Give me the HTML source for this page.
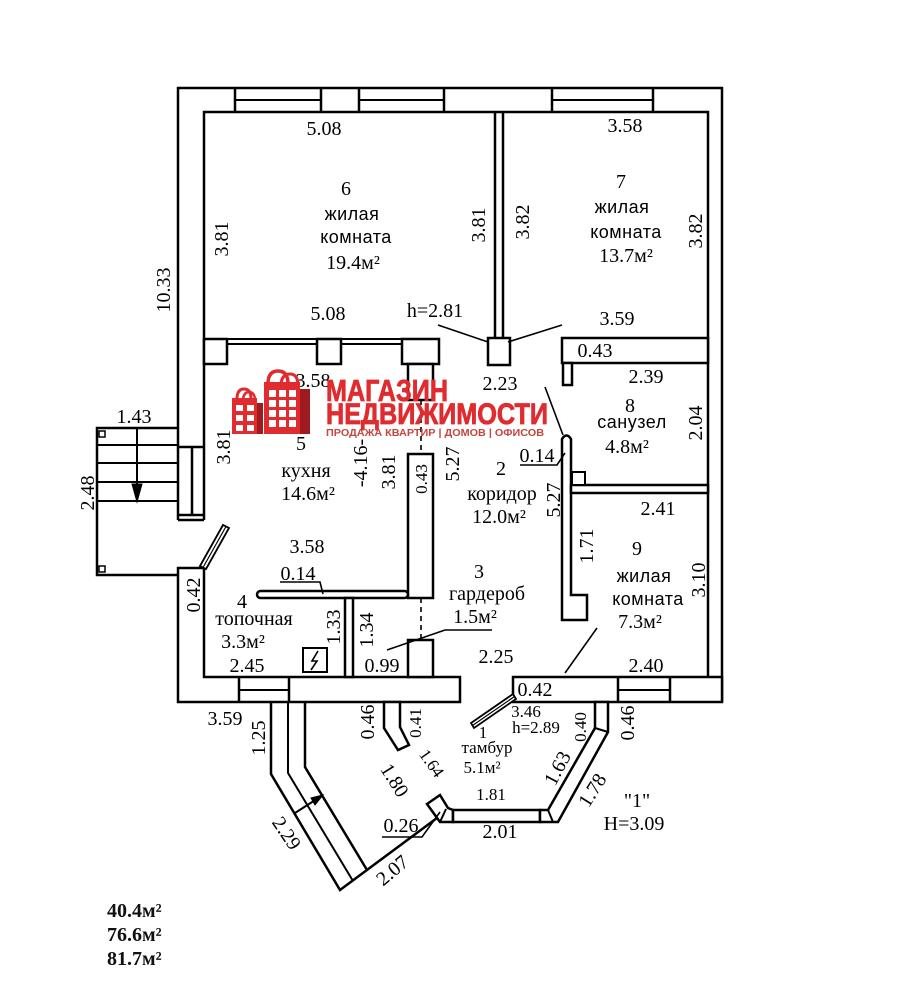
<!DOCTYPE html>
<html><head><meta charset="utf-8">
<style>
html,body{margin:0;padding:0;background:#fff;}
svg{display:block;}
.s{font-family:"Liberation Serif","Noto Serif CJK SC",serif;font-size:20px;fill:#000;}
.m{font-family:"Liberation Serif","Noto Serif CJK SC",serif;font-size:17px;fill:#000;}
.a{font-family:"Liberation Sans","Noto Sans CJK SC",sans-serif;font-size:18px;fill:#000;letter-spacing:0.5px;}
.b{font-family:"Liberation Serif","Noto Serif CJK SC",serif;font-size:20px;font-weight:bold;fill:#111;}
</style></head><body>
<svg width="905" height="988" viewBox="0 0 905 988" xmlns="http://www.w3.org/2000/svg">
<rect x="0" y="0" width="905" height="988" fill="#fff"/>
<g fill="#fff" stroke="#000" stroke-width="2.5" stroke-linejoin="miter">
  <path fill="none" d="M178,520 L178,88 L722,88 L722,702"/>
  <path fill="none" d="M204,520 L204,112 L708,112 L708,677"/>
  <path fill="none" d="M235,88 V112 M321,88 V112 M359,88 V112 M444,88 V112 M552,88 V112 M653,88 V112"/>
  <path fill="none" stroke-width="2" d="M235,100 H321 M359,100 H444 M552,100 H653"/>
  <path fill="none" d="M178,447 H204 M192,447 V515 M178,515 H204 M178,520 H204"/>
  <path d="M178,568 L204,568 L204,677 L460,677 L460,702 L178,702 Z"/>
  <path fill="none" d="M239,677 V702 M289,677 V702"/>
  <path fill="none" stroke-width="2" d="M239,690 H289"/>
  <rect x="513" y="677" width="209" height="25"/>
  <path fill="none" d="M618,677 V702 M670,677 V702"/>
  <path fill="none" stroke-width="2" d="M618,690 H670"/>
  <path fill="none" d="M495,112 V338 M503,112 V338"/>
  <rect x="204" y="339" width="23" height="25"/>
  <path fill="none" stroke-width="2" d="M227,339 H317 M227,344 H317 M341,339 H402 M341,344 H402"/>
  <rect x="317" y="339" width="24" height="25"/>
  <rect x="402" y="339" width="37" height="25"/>
  <rect x="408" y="364" width="25" height="36"/>
  <rect x="488" y="338" width="22" height="27"/>
  <rect x="562" y="338" width="146" height="25"/>
  <rect x="563" y="363" width="9" height="22"/>
  <rect x="408" y="454" width="25" height="144"/>
  <rect x="408" y="640" width="25" height="37"/>
  <rect x="257" y="591" width="151" height="7" rx="3.5"/>
  <rect x="345" y="598" width="8" height="79"/>
  <rect x="303" y="648" width="24" height="24" stroke-width="2"/>
  <path d="M562,620 L562,439 Q566.5,432 571,439 L571,595 L587,595 L587,620 Z"/>
  <rect x="571" y="485" width="137" height="8"/>
  <rect x="572" y="472" width="13" height="13" stroke-width="2"/>
  <polygon points="200,566 223,525 229,528 206,569" stroke-width="1.8"/>
  <line x1="203" y1="567.5" x2="226" y2="526.5" stroke-width="1.2"/>
  <polygon points="513,694 471,723 474,728 516,699" stroke-width="1.8"/>
  <line x1="514.5" y1="696.5" x2="472.5" y2="725.5" stroke-width="1.2"/>
  <path fill="none" d="M179,428 H97 V575 H179"/>
  <path fill="none" stroke-width="2" d="M97,445 H179 M97,463 H179 M97,482 H179 M97,501 H179"/>
  <rect x="99" y="431" width="6" height="6" stroke-width="1.5"/>
  <rect x="99" y="566" width="6" height="6" stroke-width="1.5"/>
  <line x1="137" y1="428" x2="137" y2="490" stroke-width="2"/>
  <polygon points="137,502 132,484 142,484" fill="#000" stroke-width="1"/>
  <path fill="none" d="M271,702 L271,774 L340,890 L437,818"/>
  <path fill="none" stroke-width="2" d="M288,702 L288,773 L353,881"/>
  <path fill="none" d="M305,702 L305,767 L367,870"/>
  <line x1="295" y1="813" x2="316" y2="799.5" stroke-width="2"/>
  <polygon points="323,795 315,805 311,798" fill="#000" stroke-width="1"/>
  <polygon points="384,702 384,728 398,750 409,745 400,727 400,702"/>
  <polygon points="427,804 440,795 448,808 453,810 453,822 440,822"/>
  <path fill="none" stroke-width="2" d="M440,822 L446,809"/>
  <rect x="453" y="810" width="87" height="12"/>
  <polygon points="595,702 595,728 548,810 540,810 540,822 558,822 608,732 608,702"/>
  <path fill="none" stroke-width="2" d="M548,810 L553,822 M595,728 L608,732"/>
</g>
<g fill="none" stroke="#000" stroke-width="1.6">
  <path stroke-dasharray="5,4" d="M421,400 V454 M421,598 V640"/>
  <path d="M438,325 L488,342 M508,342 L562,325"/>
  <path d="M545,387 L563,435"/>
  <path d="M520,465 H557 L565,453"/>
  <path d="M280,582 H320 L323,594"/>
  <path d="M387,650 L445,630 H492"/>
  <path d="M597,628 L565,673"/>
  <path d="M382,837 H422 L440,812"/>
  <path d="M318,651 L312,661 L317,661 L311,670" stroke-width="1.6"/>
</g>

<g class="s" text-anchor="middle">
  <text x="324" y="135">5.08</text>
  <text x="625" y="132">3.58</text>
  <text x="346" y="195">6</text>
  <text x="353" y="269">19.4м²</text>
  <text x="621" y="188">7</text>
  <text x="626" y="262">13.7м²</text>
  <text x="328" y="320">5.08</text>
  <text x="435" y="317">h=2.81</text>
  <text x="617" y="325">3.59</text>
  <text x="595" y="357">0.43</text>
  <text x="313" y="387">3.58</text>
  <text x="500" y="390">2.23</text>
  <text x="646" y="383">2.39</text>
  <text x="630" y="412">8</text>
  <text x="627" y="453">4.8м²</text>
  <text x="301" y="450">5</text>
  <text x="306" y="477">кухня</text>
  <text x="308" y="500">14.6м²</text>
  <text x="134" y="423">1.43</text>
  <text x="501" y="475">2</text>
  <text x="502" y="500">коридор</text>
  <text x="499" y="523">12.0м²</text>
  <text x="537" y="462">0.14</text>
  <text x="658" y="515">2.41</text>
  <text x="637" y="555">9</text>
  <text x="640" y="628">7.3м²</text>
  <text x="307" y="553">3.58</text>
  <text x="298" y="580">0.14</text>
  <text x="479" y="578">3</text>
  <text x="487" y="600">гардероб</text>
  <text x="475" y="623">1.5м²</text>
  <text x="242" y="608">4</text>
  <text x="254" y="625">топочная</text>
  <text x="243" y="648">3.3м²</text>
  <text x="247" y="672">2.45</text>
  <text x="382" y="672">0.99</text>
  <text x="496" y="663">2.25</text>
  <text x="646" y="672">2.40</text>
  <text x="535" y="696">0.42</text>
  <text x="225" y="725">3.59</text>
  <text x="401" y="832">0.26</text>
  <text x="500" y="838">2.01</text>
  <text x="637" y="807">"1"</text>
  <text x="634" y="830">H=3.09</text>
</g>
<g class="m" text-anchor="middle">
  <text x="526" y="717">3.46</text>
  <text x="536" y="733">h=2.89</text>
  <text x="483" y="738">1</text>
  <text x="487" y="753">тамбур</text>
  <text x="482" y="773">5.1м²</text>
  <text x="491" y="800">1.81</text>
</g>
<g class="a" text-anchor="middle">
  <text x="352" y="220">жилая</text>
  <text x="356" y="243">комната</text>
  <text x="622" y="213">жилая</text>
  <text x="626" y="238">комната</text>
  <text x="632" y="428">санузел</text>
  <text x="644" y="582">жилая</text>
  <text x="648" y="605">комната</text>
</g>
<g class="b">
  <text x="107" y="917">40.4м²</text>
  <text x="107" y="941">76.6м²</text>
  <text x="107" y="965">81.7м²</text>
</g>

<g class="s" text-anchor="middle">
  <text transform="translate(221,239) rotate(-90)" y="7">3.81</text>
  <text transform="translate(478,225) rotate(-90)" y="7">3.81</text>
  <text transform="translate(522,222) rotate(-90)" y="7">3.82</text>
  <text transform="translate(695,231) rotate(-90)" y="7">3.82</text>
  <text transform="translate(163,290) rotate(-90)" y="7">10.33</text>
  <text transform="translate(223,447) rotate(-90)" y="7">3.81</text>
  <text transform="translate(360,463) rotate(-90)" y="7">-4.16-</text>
  <text transform="translate(388,472) rotate(-90)" y="7">3.81</text>
  <text transform="translate(452,464) rotate(-90)" y="7">5.27</text>
  <text transform="translate(553,500) rotate(-90)" y="7">5.27</text>
  <text transform="translate(695,423) rotate(-90)" y="7">2.04</text>
  <text transform="translate(586,546) rotate(-90)" y="7">1.71</text>
  <text transform="translate(698,580) rotate(-90)" y="7">3.10</text>
  <text transform="translate(87,493) rotate(-90)" y="7">2.48</text>
  <text transform="translate(193,595) rotate(-90)" y="7">0.42</text>
  <text transform="translate(333,627) rotate(-90)" y="7">1.33</text>
  <text transform="translate(366,630) rotate(-90)" y="7">1.34</text>
  <text transform="translate(258,738) rotate(-90)" y="7">1.25</text>
  <text transform="translate(367,722) rotate(-90)" y="7">0.46</text>
  <text transform="translate(627,723) rotate(-90)" y="7">0.46</text>
  <text transform="translate(395,780) rotate(58)" y="7">1.80</text>
  <text transform="translate(287,833) rotate(56)" y="7">2.29</text>
  <text transform="translate(392,870) rotate(-40)" y="7">2.07</text>
  <text transform="translate(557,768) rotate(-62)" y="7">1.63</text>
  <text transform="translate(592,790) rotate(-58)" y="7">1.78</text>
</g>
<g class="m" text-anchor="middle">
  <text transform="translate(421,479) rotate(-90)" y="6">0.43</text>
  <text transform="translate(415,723) rotate(-90)" y="6">0.41</text>
  <text transform="translate(580,727) rotate(-90)" y="6">0.40</text>
  <text transform="translate(432,763) rotate(55)" y="6">1.64</text>
</g>

<g>
  <path d="M237,399 Q237,389 244,389 Q251,389 251,399" fill="none" stroke="#e02b2f" stroke-width="3"/>
  <path d="M243,399 Q244,392 249,392 Q255,392 255,401" fill="none" stroke="#e02b2f" stroke-width="2.5"/>
  <rect x="232" y="398" width="25" height="36" fill="#e02b2f"/>
  <rect x="257" y="403" width="6" height="31" fill="#9e1b1f"/>
  <g fill="#fff">
    <rect x="236" y="405" width="7" height="6"/><rect x="247" y="405" width="7" height="6"/>
    <rect x="236" y="415" width="7" height="6"/><rect x="247" y="415" width="7" height="6"/>
    <rect x="236" y="425" width="7" height="6"/><rect x="247" y="425" width="7" height="6"/>
  </g>
  <path d="M268,384 Q268,371 278,371 Q288,371 288,384" fill="none" stroke="#e02b2f" stroke-width="3.5"/>
  <path d="M281,384 Q282,374 290,374 Q298,374 298,386" fill="none" stroke="#e02b2f" stroke-width="3"/>
  <rect x="264" y="382" width="36" height="52" fill="#e02b2f"/>
  <rect x="300" y="389" width="10" height="45" fill="#9e1b1f"/>
  <g fill="#fff">
    <rect x="269" y="390" width="7" height="7"/><rect x="279" y="390" width="7" height="7"/><rect x="289" y="390" width="7" height="7"/>
    <rect x="269" y="400" width="7" height="7"/><rect x="279" y="400" width="7" height="7"/><rect x="289" y="400" width="7" height="7"/>
    <rect x="269" y="410" width="7" height="7"/><rect x="279" y="410" width="7" height="7"/><rect x="289" y="410" width="7" height="7"/>
    <rect x="269" y="420" width="7" height="7"/><rect x="279" y="420" width="7" height="7"/><rect x="289" y="420" width="7" height="7"/>
  </g>
  <text x="326" y="401" font-family="Liberation Sans, sans-serif" font-weight="bold" font-size="31" fill="#e02b2f" stroke="#e02b2f" stroke-width="0.8" textLength="122" lengthAdjust="spacingAndGlyphs">МАГАЗИН</text>
  <text x="326" y="424" font-family="Liberation Sans, sans-serif" font-weight="bold" font-size="30" fill="#e02b2f" stroke="#e02b2f" stroke-width="0.8" textLength="222" lengthAdjust="spacingAndGlyphs">НЕДВИЖИМОСТИ</text>
  <text x="326" y="436" font-family="Liberation Sans, sans-serif" font-weight="bold" font-size="10.5" fill="#c4463f" textLength="218" lengthAdjust="spacingAndGlyphs">ПРОДАЖА КВАРТИР | ДОМОВ | ОФИСОВ</text>
</g>
</svg>
</body></html>
